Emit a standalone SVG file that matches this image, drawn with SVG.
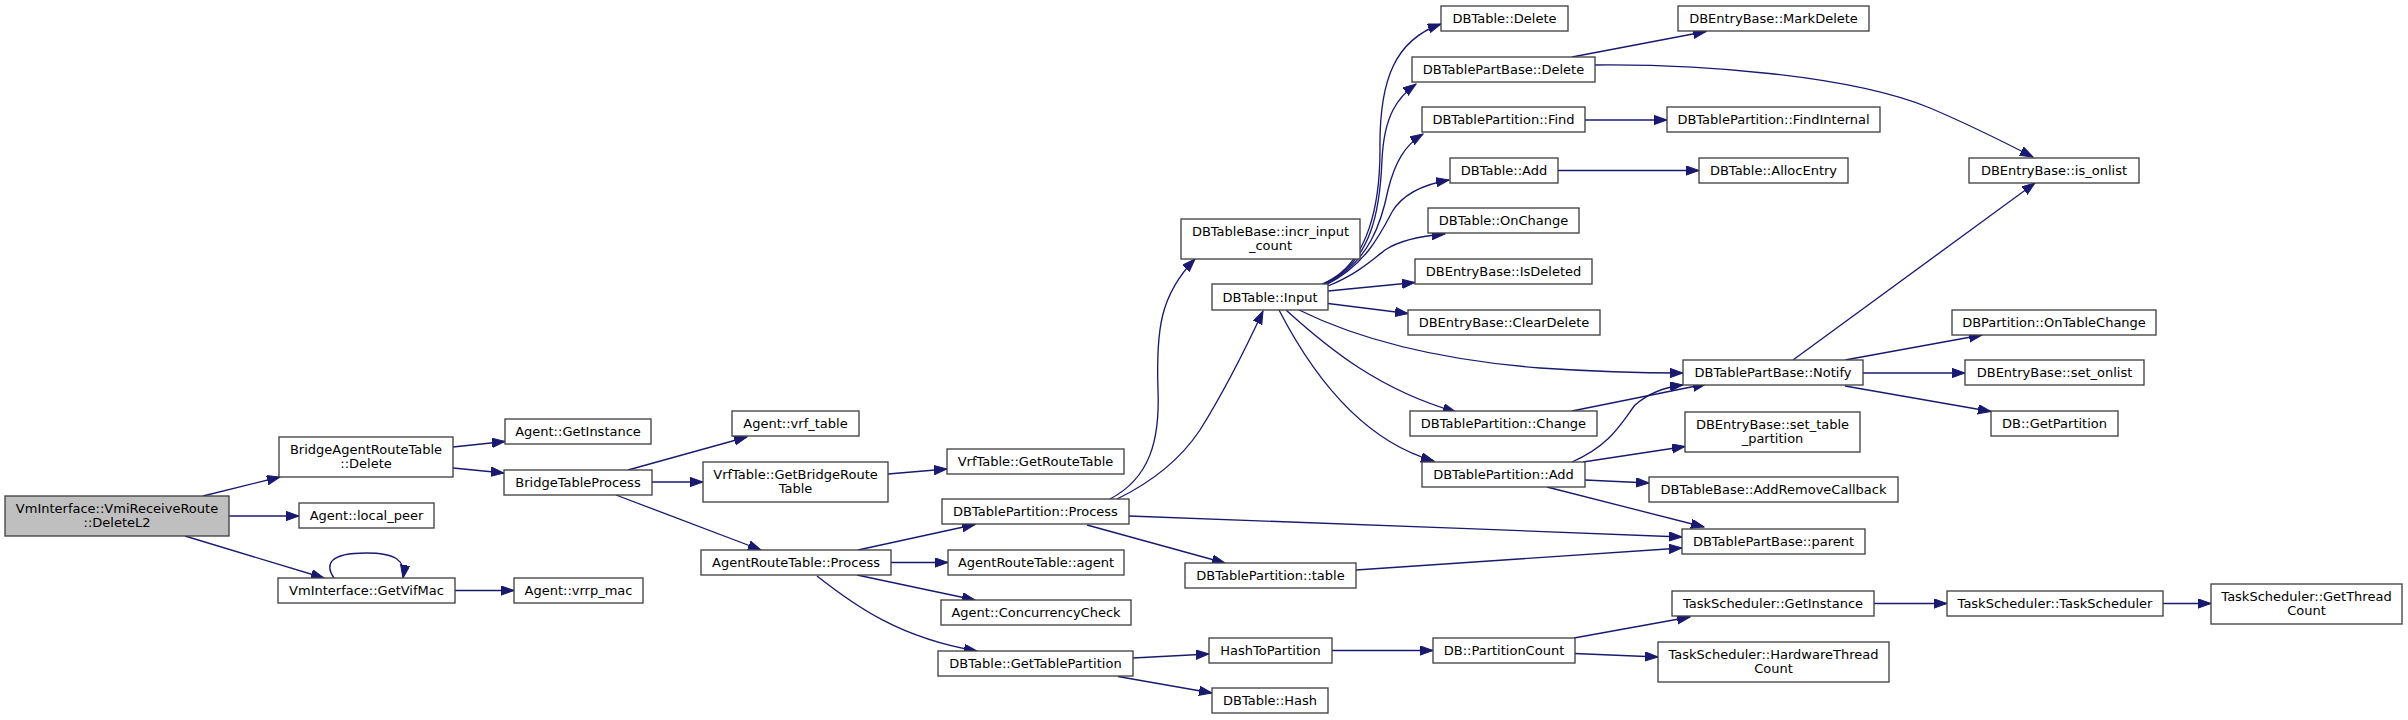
<svg xmlns="http://www.w3.org/2000/svg" width="2408" height="720" viewBox="0 0 2408 720">
<style>
.n rect{fill:#fff;stroke:#404040;stroke-width:1.33}
.n.root rect{fill:#bfbfbf}
.n text{font-family:"DejaVu Sans","Liberation Sans",sans-serif;font-size:13px;text-anchor:middle;fill:#000}
.e path{fill:none;stroke:#191970;stroke-width:1.33;marker-end:url(#a)}
</style>
<defs>
<marker id="a" markerWidth="14" markerHeight="10" refX="13" refY="4.65" orient="auto" markerUnits="userSpaceOnUse"><path d="M0,0 L13,4.65 L0,9.3 z" fill="#191970" stroke="#191970" stroke-width="1"/></marker>
</defs>
<rect width="2408" height="720" fill="#fff"/>
<g id="connectors" class="e">
<path d="M203,496 L280,477"/>
<path d="M229,516 L299,516"/>
<path d="M185,536 L324,578"/>
<path d="M334,578 C325,565 328,553 366,553 C395,553 406,560 403,578"/>
<path d="M455,590.5 L514,590.5"/>
<path d="M453,447 L505,441.5"/>
<path d="M453,468 L504,473"/>
<path d="M628,470 L747,437"/>
<path d="M652,482 L703,482"/>
<path d="M616,495 L761,550"/>
<path d="M888,474 L947,469"/>
<path d="M858,550 L975,524.5"/>
<path d="M891,562.5 L948,562.5"/>
<path d="M857,575 L975,600"/>
<path d="M817,576 C855,606 900,638 977,651"/>
<path d="M1110,499 C1150,478 1160,440 1158,390 C1156,330 1160,295 1195,259"/>
<path d="M1117,499 C1150,483 1180,460 1200,430 C1225,390 1245,350 1263,311"/>
<path d="M1129,516 C1300,522 1500,530 1682,537"/>
<path d="M1087,525 L1225,563"/>
<path d="M1133,658 L1209,654"/>
<path d="M1118,676.5 L1212,693"/>
<path d="M1332,650.5 L1433,650.5"/>
<path d="M1574,638 L1690,617"/>
<path d="M1574.5,653.5 L1658,657"/>
<path d="M1874,603.5 L1947,603.5"/>
<path d="M2163,603.5 L2211,603.5"/>
<path d="M1356,570 L1682,548"/>
<path d="M1322,284 C1370,265 1380,200 1380,150 C1379,80 1395,40 1441,24"/>
<path d="M1324,284 C1372,262 1380,210 1382,160 C1384,115 1398,97 1416,84"/>
<path d="M1326,284 C1370,262 1382,220 1388,190 C1395,162 1405,145 1423,134"/>
<path d="M1326,285 C1365,265 1380,235 1392,212 C1402,195 1420,185 1449,180"/>
<path d="M1328,286 C1355,275 1370,262 1385,250 C1400,240 1420,236 1445,234"/>
<path d="M1328,291 L1415,282.5"/>
<path d="M1328,303.5 L1408,313.5"/>
<path d="M1299,310 C1360,340 1440,360 1540,368 C1600,372 1640,373 1683,373"/>
<path d="M1286,310 C1330,350 1380,390 1456,412"/>
<path d="M1279,310 C1310,370 1360,440 1434,461"/>
<path d="M1572,57 L1706,31.5"/>
<path d="M1595,65 C1700,64 1850,75 1930,108 C1970,125 2000,140 2033,157"/>
<path d="M1585,120 L1667,120"/>
<path d="M1558,170.5 L1699,170.5"/>
<path d="M1793,360 L2035,183"/>
<path d="M1845,360 L1982,335"/>
<path d="M1863,373 L1965,373"/>
<path d="M1845,386 L1991,411.5"/>
<path d="M1572,411 L1706,384"/>
<path d="M1572,462 C1610,445 1620,425 1635,405 C1650,392 1665,387 1683,385"/>
<path d="M1583,462 L1685,446.5"/>
<path d="M1585,480 L1649,483"/>
<path d="M1547,487 L1704,527"/>
</g>
<g id="n0" class="n root"><rect x="5" y="496" width="224" height="40"/><text x="117" y="512.5">VmInterface::VmiReceiveRoute</text><text x="117" y="527">::DeleteL2</text></g>
<g id="n1" class="n"><rect x="279" y="437" width="174" height="40"/><text x="366" y="453.5">BridgeAgentRouteTable</text><text x="366" y="468">::Delete</text></g>
<g id="n2" class="n"><rect x="299" y="503" width="135" height="25"/><text x="366.5" y="520">Agent::local_peer</text></g>
<g id="n3" class="n"><rect x="278" y="578" width="177" height="25"/><text x="366.5" y="595">VmInterface::GetVifMac</text></g>
<g id="n4" class="n"><rect x="505" y="419" width="146" height="25"/><text x="578" y="436">Agent::GetInstance</text></g>
<g id="n5" class="n"><rect x="504" y="470" width="148" height="25"/><text x="578" y="487">BridgeTableProcess</text></g>
<g id="n6" class="n"><rect x="514" y="578" width="129" height="25"/><text x="578.5" y="595">Agent::vrrp_mac</text></g>
<g id="n7" class="n"><rect x="732" y="411" width="127" height="25"/><text x="795.5" y="428">Agent::vrf_table</text></g>
<g id="n8" class="n"><rect x="703" y="462" width="185" height="40"/><text x="795.5" y="478.5">VrfTable::GetBridgeRoute</text><text x="795.5" y="493">Table</text></g>
<g id="n9" class="n"><rect x="701" y="550" width="190" height="25"/><text x="796" y="567">AgentRouteTable::Process</text></g>
<g id="n10" class="n"><rect x="947" y="449" width="177" height="25"/><text x="1035.5" y="466">VrfTable::GetRouteTable</text></g>
<g id="n11" class="n"><rect x="942" y="499" width="187" height="25"/><text x="1035.5" y="516">DBTablePartition::Process</text></g>
<g id="n12" class="n"><rect x="948" y="550" width="176" height="25"/><text x="1036" y="567">AgentRouteTable::agent</text></g>
<g id="n13" class="n"><rect x="941" y="600" width="190" height="25"/><text x="1036" y="617">Agent::ConcurrencyCheck</text></g>
<g id="n14" class="n"><rect x="938" y="651" width="195" height="25"/><text x="1035.5" y="668">DBTable::GetTablePartition</text></g>
<g id="n15" class="n"><rect x="1181" y="219" width="179" height="40"/><text x="1270.5" y="235.5">DBTableBase::incr_input</text><text x="1270.5" y="250">_count</text></g>
<g id="n16" class="n"><rect x="1212" y="284" width="116" height="26"/><text x="1270" y="301.5">DBTable::Input</text></g>
<g id="n17" class="n"><rect x="1185" y="563" width="171" height="25"/><text x="1270.5" y="580">DBTablePartition::table</text></g>
<g id="n18" class="n"><rect x="1209" y="638" width="123" height="25"/><text x="1270.5" y="655">HashToPartition</text></g>
<g id="n19" class="n"><rect x="1212" y="688" width="116" height="25"/><text x="1270" y="705">DBTable::Hash</text></g>
<g id="n20" class="n"><rect x="1441" y="6" width="127" height="25"/><text x="1504.5" y="23">DBTable::Delete</text></g>
<g id="n21" class="n"><rect x="1412" y="57" width="183" height="25"/><text x="1503.5" y="74">DBTablePartBase::Delete</text></g>
<g id="n22" class="n"><rect x="1422" y="107" width="163" height="25"/><text x="1503.5" y="124">DBTablePartition::Find</text></g>
<g id="n23" class="n"><rect x="1450" y="158" width="108" height="25"/><text x="1504" y="175">DBTable::Add</text></g>
<g id="n24" class="n"><rect x="1428" y="208" width="151" height="25"/><text x="1503.5" y="225">DBTable::OnChange</text></g>
<g id="n25" class="n"><rect x="1415" y="259" width="177" height="25"/><text x="1503.5" y="276">DBEntryBase::IsDeleted</text></g>
<g id="n26" class="n"><rect x="1408" y="310" width="192" height="25"/><text x="1504" y="327">DBEntryBase::ClearDelete</text></g>
<g id="n27" class="n"><rect x="1410" y="411" width="187" height="25"/><text x="1503.5" y="428">DBTablePartition::Change</text></g>
<g id="n28" class="n"><rect x="1422" y="462" width="163" height="25"/><text x="1503.5" y="479">DBTablePartition::Add</text></g>
<g id="n29" class="n"><rect x="1433" y="638" width="142" height="25"/><text x="1504" y="655">DB::PartitionCount</text></g>
<g id="n30" class="n"><rect x="1678" y="6" width="191" height="25"/><text x="1773.5" y="23">DBEntryBase::MarkDelete</text></g>
<g id="n31" class="n"><rect x="1667" y="107" width="213" height="25"/><text x="1773.5" y="124">DBTablePartition::FindInternal</text></g>
<g id="n32" class="n"><rect x="1699" y="158" width="149" height="25"/><text x="1773.5" y="175">DBTable::AllocEntry</text></g>
<g id="n33" class="n"><rect x="1683" y="360" width="180" height="25"/><text x="1773" y="377">DBTablePartBase::Notify</text></g>
<g id="n34" class="n"><rect x="1685" y="412" width="175" height="40"/><text x="1772.5" y="428.5">DBEntryBase::set_table</text><text x="1772.5" y="443">_partition</text></g>
<g id="n35" class="n"><rect x="1649" y="477" width="249" height="25"/><text x="1773.5" y="494">DBTableBase::AddRemoveCallback</text></g>
<g id="n36" class="n"><rect x="1682" y="529" width="183" height="25"/><text x="1773.5" y="546">DBTablePartBase::parent</text></g>
<g id="n37" class="n"><rect x="1672" y="591" width="202" height="25"/><text x="1773" y="608">TaskScheduler::GetInstance</text></g>
<g id="n38" class="n"><rect x="1658" y="642" width="231" height="40"/><text x="1773.5" y="658.5">TaskScheduler::HardwareThread</text><text x="1773.5" y="673">Count</text></g>
<g id="n39" class="n"><rect x="1969" y="158" width="170" height="25"/><text x="2054" y="175">DBEntryBase::is_onlist</text></g>
<g id="n40" class="n"><rect x="1952" y="310" width="204" height="25"/><text x="2054" y="327">DBPartition::OnTableChange</text></g>
<g id="n41" class="n"><rect x="1965" y="360" width="179" height="25"/><text x="2054.5" y="377">DBEntryBase::set_onlist</text></g>
<g id="n42" class="n"><rect x="1991" y="411" width="127" height="25"/><text x="2054.5" y="428">DB::GetPartition</text></g>
<g id="n43" class="n"><rect x="1947" y="591" width="216" height="25"/><text x="2055" y="608">TaskScheduler::TaskScheduler</text></g>
<g id="n44" class="n"><rect x="2211" y="584" width="191" height="40"/><text x="2306.5" y="600.5">TaskScheduler::GetThread</text><text x="2306.5" y="615">Count</text></g>
</svg>
